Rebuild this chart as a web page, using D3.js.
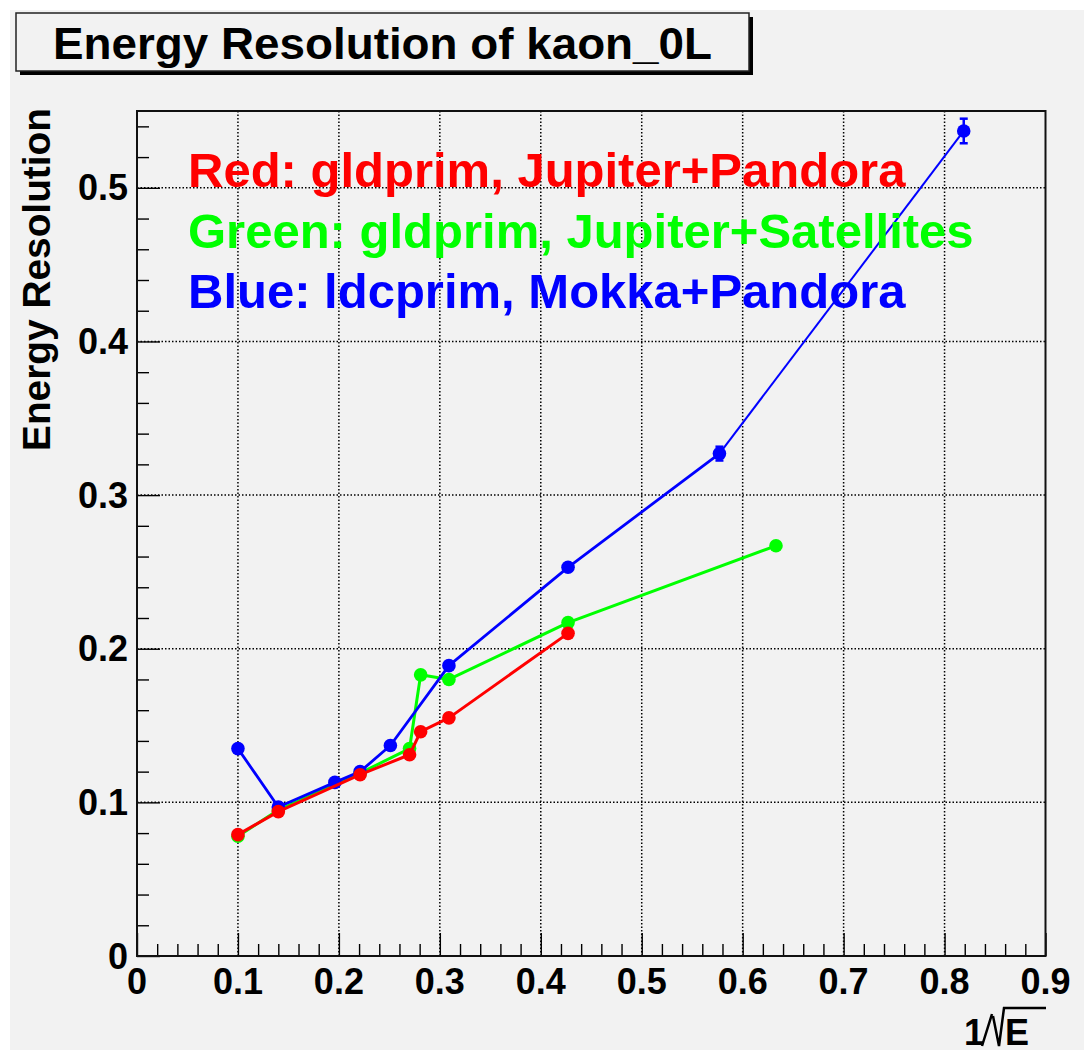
<!DOCTYPE html>
<html>
<head>
<meta charset="utf-8">
<script src="https://cdn.jsdelivr.net/npm/d3@7"></script>
<style>
  html, body { margin: 0; padding: 0; background: #ffffff; }
  svg { display: block; }
  text { font-family: "Liberation Sans", Arial, Helvetica, sans-serif; font-weight: bold; }
</style>
</head>
<body>
<svg id="chart" width="1090" height="1056"></svg>
<script>
// Energy resolution of K0L versus 1/sqrt(E) for three detector/reconstruction setups
const redX   = [0.100, 0.140, 0.221, 0.270, 0.281, 0.309, 0.427];
const redY   = [0.079, 0.094, 0.118, 0.131, 0.146, 0.155, 0.210];

const greenX = [0.100, 0.140, 0.221, 0.270, 0.281, 0.309, 0.427, 0.633];
const greenY = [0.078, 0.095, 0.119, 0.135, 0.183, 0.180, 0.217, 0.267];

const blueX  = [0.100, 0.140, 0.196, 0.221, 0.251, 0.309, 0.427, 0.577, 0.819];
const blueY  = [0.135, 0.097, 0.113, 0.120, 0.137, 0.189, 0.253, 0.327, 0.537];
const blueErr= [0.002, 0.002, 0.002, 0.002, 0.002, 0.002, 0.003, 0.0045, 0.008];

const xTicks = [0, 0.1, 0.2, 0.3, 0.4, 0.5, 0.6, 0.7, 0.8, 0.9];
const yTicks = [0, 0.1, 0.2, 0.3, 0.4, 0.5];

const titleText  = "Energy Resolution of kaon_0L";
const yTitleText = "Energy Resolution";
const legendLines = [
  { text: "Red: gldprim, Jupiter+Pandora",        color: "#ff0000" },
  { text: "Green: gldprim, Jupiter+Satellites",   color: "#00ff00" },
  { text: "Blue: ldcprim, Mokka+Pandora",         color: "#0000ff" }
];

const svg = d3.select("#chart");
const bg = "#f2f2f2";

// canvas
svg.append("rect").attr("x", 10).attr("y", 10).attr("width", 1074).attr("height", 1040).attr("fill", bg);

// frame geometry
const fx0 = 137, fx1 = 1045.5, fy0 = 111, fy1 = 956;
const x = d3.scaleLinear().domain([0, 0.9]).range([fx0, fx1]);
const y = d3.scaleLinear().domain([0, 0.55]).range([fy1, fy0]);

svg.append("rect").attr("x", fx0).attr("y", fy0).attr("width", fx1 - fx0).attr("height", fy1 - fy0).attr("fill", bg);

// dotted grid at major ticks
const grid = svg.append("g").attr("stroke", "#000").attr("stroke-width", 1.5).attr("stroke-dasharray", "1.5,2");
xTicks.filter(t => t > 0 && t < 0.9).forEach(t => {
  grid.append("line").attr("x1", x(t)).attr("x2", x(t)).attr("y1", fy0).attr("y2", fy1);
});
yTicks.filter(t => t > 0).forEach(t => {
  grid.append("line").attr("x1", fx0).attr("x2", fx1).attr("y1", y(t)).attr("y2", y(t));
});

// axes: ticks point into the frame
const isMajor = d => Math.abs(d * 10 - Math.round(d * 10)) < 1e-6;
const xAxis = d3.axisTop(x)
  .tickValues(d3.range(0, 0.9001, 0.02))
  .tickSizeInner(0).tickSizeOuter(0).tickFormat("");
const gx = svg.append("g").attr("transform", `translate(0,${fy1})`).call(xAxis);
gx.select(".domain").remove();
gx.selectAll(".tick line")
  .attr("y2", d => isMajor(d) ? -23 : -12)
  .attr("stroke", "#000").attr("stroke-width", 1.4);

const yAxis = d3.axisRight(y)
  .tickValues(d3.range(0, 0.5501, 0.02))
  .tickSizeInner(0).tickSizeOuter(0).tickFormat("");
const gy = svg.append("g").attr("transform", `translate(${fx0},0)`).call(yAxis);
gy.select(".domain").remove();
gy.selectAll(".tick line")
  .attr("x2", d => isMajor(d) ? 23 : 12)
  .attr("stroke", "#000").attr("stroke-width", 1.4);

// tick labels
svg.append("g").selectAll("text").data(xTicks).join("text")
  .attr("x", d => x(d)).attr("y", 994)
  .attr("text-anchor", "middle").attr("font-size", 36).attr("fill", "#000")
  .text(d => d === 0 ? "0" : d3.format(".1f")(d));
svg.append("g").selectAll("text").data(yTicks).join("text")
  .attr("x", 128).attr("y", d => y(d) + 12.5)
  .attr("text-anchor", "end").attr("font-size", 36).attr("fill", "#000")
  .text(d => d === 0 ? "0" : d3.format(".1f")(d));

// frame border
svg.append("rect").attr("x", fx0).attr("y", fy0).attr("width", fx1 - fx0).attr("height", fy1 - fy0)
  .attr("fill", "none").attr("stroke", "#111").attr("stroke-width", 2);

// series: polyline, error bars, filled markers
function drawSeries(xs, ys, color, width, errs, lastWidth) {
  const pts = xs.map((v, i) => [v, ys[i], errs ? errs[i] : 0]);
  const line = d3.line().x(d => x(d[0])).y(d => y(d[1]));
  const g = svg.append("g");
  const body = lastWidth ? pts.slice(0, -1) : pts;
  g.append("path").attr("d", line(body)).attr("fill", "none")
    .attr("stroke", color).attr("stroke-width", width).attr("stroke-linejoin", "round");
  if (lastWidth) {
    g.append("path").attr("d", line(pts.slice(-2))).attr("fill", "none")
      .attr("stroke", color).attr("stroke-width", lastWidth);
  }
  pts.forEach(d => {
    if (d[2] && (y(d[1] - d[2]) - y(d[1])) > 6) {
      g.append("line").attr("x1", x(d[0])).attr("x2", x(d[0]))
        .attr("y1", y(d[1] - d[2])).attr("y2", y(d[1] + d[2]))
        .attr("stroke", color).attr("stroke-width", 2.5);
      [d[1] - d[2], d[1] + d[2]].forEach(e => {
        g.append("line").attr("x1", x(d[0]) - 4).attr("x2", x(d[0]) + 4)
          .attr("y1", y(e)).attr("y2", y(e)).attr("stroke", color).attr("stroke-width", 2.5);
      });
    }
  });
  g.selectAll("circle").data(pts).join("circle")
    .attr("cx", d => x(d[0])).attr("cy", d => y(d[1])).attr("r", 6.8).attr("fill", color);
  return g;
}
drawSeries(greenX, greenY, "#00ff00", 3);
drawSeries(blueX, blueY, "#0000ff", 2.8, blueErr, 2);
drawSeries(redX, redY, "#ff0000", 3);

// legend text
legendLines.forEach((l, i) => {
  svg.append("text").attr("x", 188).attr("y", 187 + i * 60.7)
    .attr("font-size", 49).attr("fill", l.color).text(l.text);
});

// title box with shadow
svg.append("rect").attr("x", 20).attr("y", 17).attr("width", 733).attr("height", 58).attr("fill", "#000");
svg.append("rect").attr("x", 16).attr("y", 13).attr("width", 733).attr("height", 58)
  .attr("fill", bg).attr("stroke", "#222").attr("stroke-width", 1.5);
svg.append("text").attr("x", 53).attr("y", 58.5).attr("font-size", 45)
  .attr("textLength", 659).attr("lengthAdjust", "spacingAndGlyphs").attr("fill", "#000")
  .text(titleText);

// y-axis title
svg.append("text").attr("transform", "translate(50,451) rotate(-90)")
  .attr("font-size", 39).attr("textLength", 343).attr("lengthAdjust", "spacingAndGlyphs")
  .attr("fill", "#000").text(yTitleText);

// x-axis title: 1/sqrt(E)
const xt = svg.append("g");
xt.append("text").attr("x", 964).attr("y", 1045).attr("font-size", 36).attr("fill", "#000").text("1");
xt.append("path")
  .attr("d", "M 982 1046 L 992 1014 M 993 1016 L 999 1046 L 1004 1008 L 1046 1008")
  .attr("fill", "none").attr("stroke", "#000").attr("stroke-width", 2.5);
xt.append("text").attr("x", 1005).attr("y", 1045).attr("font-size", 36).attr("fill", "#000").text("E");
</script>
</body>
</html>
